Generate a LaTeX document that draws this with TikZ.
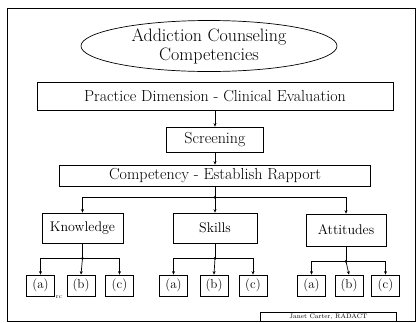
\documentclass[tikz,border=0pt]{standalone}
\usetikzlibrary{arrows.meta,positioning,calc,shapes.geometric}

\begin{document}
\begin{tikzpicture}[x=1pt,y=-1pt,>={Stealth[length=3.5pt,width=3pt]},
line width=0.7pt,
level/.style={draw,rectangle,align=center,inner sep=1pt,font=\fontsize{16}{18}\selectfont},
group/.style={level,font=\fontsize{14}{16}\selectfont},
leaf/.style={draw,rectangle,minimum width=28pt,minimum height=21pt,inner sep=1pt,font=\fontsize{13}{15}\selectfont},
junc/.style={circle,fill,inner sep=0pt,minimum size=3pt}]
\useasboundingbox (0,0) rectangle (418,322);
\draw (7,8) rectangle (415,321);
\node[draw,ellipse,minimum width=256pt,minimum height=51pt,align=center,inner sep=0pt,
  font=\fontsize{18}{19}\selectfont] (title) at (209,46) {Addiction Counseling\\Competencies};
\node[level,minimum width=356pt,minimum height=28pt] (practice) at (215,96) {Practice Dimension - Clinical Evaluation};
\node[level,minimum width=97pt,minimum height=25pt] (screen) at (215,139.5) {Screening};
\node[level,minimum width=311pt,minimum height=21pt] (rapport) at (215,175.5) {Competency - Establish Rapport};
\node[group,minimum width=81pt,minimum height=30pt] (know) at (82.5,228) {Knowledge};
\node[group,minimum width=84pt,minimum height=30pt] (skills) at (215,228) {Skills};
\node[group,minimum width=80pt,minimum height=32pt] (attit) at (346,230) {Attitudes};
% leaves
\foreach \g/\x/\t in {ka/40.5/a,kb/81/b,kc/119.5/c,sa/173.5/a,sb/214/b,sc/253/c,aa/311.5/a,ab/349/b,ac/385.5/c}
  \node[leaf] (\g) at (\x,285.5) {(\t)};
\node[font=\fontsize{6}{7}\selectfont,inner sep=0pt] (rc) at (59,297) {rc};
\node[draw,minimum width=136pt,minimum height=9pt,inner sep=0pt,anchor=north west,
  font=\fontsize{6.5}{7}\selectfont] (credit) at (260,312) {Janet Carter, RADACT};
\draw[->] (practice)--(screen);
\draw[->] (screen)--(rapport);
\coordinate (jr) at ($(rapport.south)+(0,11)$);
\draw[->] (rapport.south)--(jr)-|(know.north);
\draw[->] (jr)-|(attit.north);
\draw[->] (jr)--(skills.north);
\node[junc] at (jr) {};
% second level
\foreach \p/\a/\b/\c in {know/ka/kb/kc,skills/sa/sb/sc,attit/aa/ab/ac}{
  \coordinate (j\p) at ($(\p.south)+(0,15)$);
  \draw[->] (\p.south)--(j\p)-|(\a.north);
  \draw[->] (j\p)-|(\c.north);
  \draw[->] (j\p)--(\b.north);
  \node[junc] at (j\p) {};
}
\end{tikzpicture}
\end{document}
